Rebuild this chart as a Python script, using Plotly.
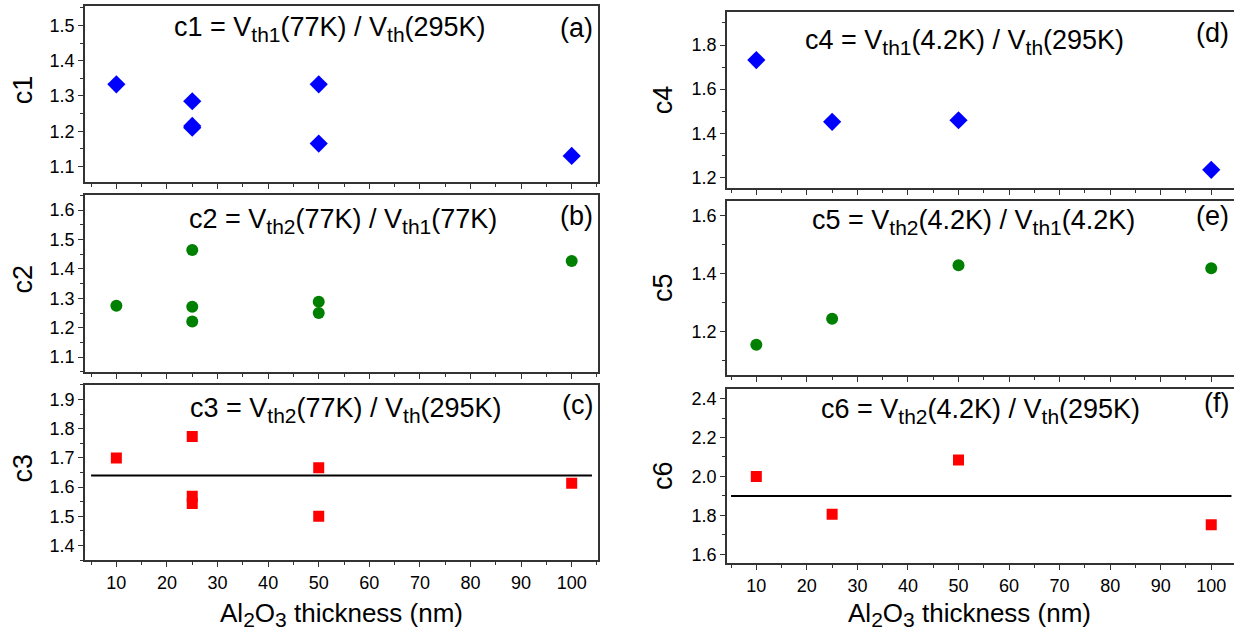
import plotly.graph_objects as go
from plotly.subplots import make_subplots

# ---------------- data ----------------
x_c1 = [10, 25, 25, 25, 50, 50, 100]
c1 = [1.333, 1.285, 1.210, 1.215, 1.333, 1.165, 1.130]

x_c2 = [10, 25, 25, 25, 50, 50, 100]
c2 = [1.275, 1.464, 1.271, 1.221, 1.288, 1.250, 1.427]

x_c3 = [10, 25, 25, 25, 50, 50, 100]
c3 = [1.700, 1.773, 1.569, 1.544, 1.666, 1.500, 1.613]
c3_line_x = [5, 104]
c3_line_y = [1.64, 1.64]

x_c4 = [10, 25, 50, 100]
c4 = [1.732, 1.452, 1.459, 1.234]

x_c5 = [10, 25, 50, 100]
c5 = [1.154, 1.244, 1.429, 1.419]

x_c6 = [10, 25, 50, 100]
c6 = [2.000, 1.806, 2.084, 1.752]
c6_line_x = [5, 104]
c6_line_y = [1.90, 1.90]

x_ticks = [10, 20, 30, 40, 50, 60, 70, 80, 90, 100]

W, H = 1234, 631
FONT = "Liberation Sans, Arial, sans-serif"
AX = "#333333"

fig = make_subplots(rows=3, cols=2)

blue, green, red = "#0000FF", "#008000", "#FF0000"

def add_pts(x, y, row, col, symbol, color, size):
    fig.add_trace(go.Scatter(x=x, y=y, mode="markers",
                             marker=dict(symbol=symbol, color=color, size=size, line=dict(width=0)),
                             showlegend=False), row=row, col=col)

add_pts(x_c1, c1, 1, 1, "diamond", blue, 14)
add_pts(x_c2, c2, 2, 1, "circle", green, 12)
add_pts(x_c3, c3, 3, 1, "square", red, 11)
fig.add_trace(go.Scatter(x=c3_line_x, y=c3_line_y, mode="lines",
                         line=dict(color="black", width=2), showlegend=False), row=3, col=1)
add_pts(x_c4, c4, 1, 2, "diamond", blue, 14)
add_pts(x_c5, c5, 2, 2, "circle", green, 12)
add_pts(x_c6, c6, 3, 2, "square", red, 11)
fig.add_trace(go.Scatter(x=c6_line_x, y=c6_line_y, mode="lines",
                         line=dict(color="black", width=2), showlegend=False), row=3, col=2)

def px_x(x):
    return x / W

def px_y(y):
    return 1 - y / H

# domains (pixel positions)
left_x = (85, 598)
right_x = (727, 1234)
left_y = [(6, 183), (196, 373), (386, 562)]
right_y = [(12, 189), (202, 376), (390, 565)]

yranges_left = [(1.055, 1.555), (1.05, 1.65), (1.35, 1.95)]
yranges_right = [(1.15, 1.95), (1.05, 1.65), (1.555, 2.45)]
ytitles_left = ["c1", "c2", "c3"]
ytitles_right = ["c4", "c5", "c6"]

TICKFONT = dict(family=FONT, size=18, color="black")

xaxis_common = dict(
    tickvals=x_ticks, ticks="outside", ticklen=5, tickwidth=1, tickcolor=AX,
    showline=True, linecolor=AX, linewidth=1.5, showgrid=False, zeroline=False,
    minor=dict(dtick=5, ticks="outside", ticklen=3, tickcolor=AX, showgrid=False),
    tickfont=TICKFONT,
)

for i in range(3):
    row = i + 1
    fig.update_xaxes(domain=[px_x(left_x[0]), px_x(left_x[1])], range=[3.8, 105.2],
                     mirror=True, showticklabels=(i == 2), row=row, col=1, **xaxis_common)
    fig.update_yaxes(domain=[px_y(left_y[i][1]), px_y(left_y[i][0])], range=list(yranges_left[i]),
                     dtick=0.1, tickformat=".1f", ticks="outside", ticklen=5, tickcolor=AX,
                     showline=True, linecolor=AX, linewidth=1.5, mirror=True,
                     showgrid=False, zeroline=False,
                     minor=dict(dtick=0.05, ticks="outside", ticklen=3, tickcolor=AX, showgrid=False),
                     tickfont=TICKFONT, row=row, col=1)
    fig.update_xaxes(domain=[px_x(right_x[0]), px_x(right_x[1])], range=[4.2, 104.5],
                     mirror=True, showticklabels=(i == 2), row=row, col=2, **xaxis_common)
    fig.update_yaxes(domain=[px_y(right_y[i][1]), px_y(right_y[i][0])], range=list(yranges_right[i]),
                     dtick=0.2, tickformat=".1f", ticks="outside", ticklen=5, tickcolor=AX,
                     showline=True, linecolor=AX, linewidth=1.5, mirror=False,
                     showgrid=False, zeroline=False,
                     minor=dict(dtick=0.1, ticks="outside", ticklen=3, tickcolor=AX, showgrid=False),
                     tickfont=TICKFONT, row=row, col=2)

ann = []
def add_ann(text, x, y, size, xanchor="center", angle=0):
    ann.append(dict(text=text, x=px_x(x), y=px_y(y), xref="paper", yref="paper",
                    xanchor=xanchor, yanchor="middle", showarrow=False, textangle=angle,
                    font=dict(family=FONT, size=size, color="black")))

def sub(t, px=21):
    return "<sub><span style='font-size:%dpx'>%s</span></sub>" % (px, t)

TS = 27
add_ann("c1 = V" + sub("th1") + "(77K) / V" + sub("th") + "(295K)", 330, 29, TS)
add_ann("(a)", 595, 28, TS, "right")
add_ann("c2 = V" + sub("th2") + "(77K) / V" + sub("th1") + "(77K)", 343, 222, TS)
add_ann("(b)", 595, 217, TS, "right")
add_ann("c3 = V" + sub("th2") + "(77K) / V" + sub("th") + "(295K)", 346, 411, TS)
add_ann("(c)", 595, 406, TS, "right")
add_ann("c4 = V" + sub("th1") + "(4.2K) / V" + sub("th") + "(295K)", 964, 42, TS)
add_ann("(d)", 1231, 33, TS, "right")
add_ann("c5 = V" + sub("th2") + "(4.2K) / V" + sub("th1") + "(4.2K)", 973, 223, TS)
add_ann("(e)", 1231, 217, TS, "right")
add_ann("c6 = V" + sub("th2") + "(4.2K) / V" + sub("th") + "(295K)", 980, 412, TS)
add_ann("(f)", 1231, 404, TS, "right")

# axis titles
YS = 27
for i, t in enumerate(ytitles_left):
    add_ann(t, 23, (left_y[i][0] + left_y[i][1]) / 2 - 4, YS, "center", -90)
for i, t in enumerate(ytitles_right):
    add_ann(t, 663, (right_y[i][0] + right_y[i][1]) / 2, YS, "center", -90)
xt = "Al" + sub("2", 21) + "O" + sub("3", 21) + " thickness (nm)"
add_ann(xt, 341, 616, 26)
add_ann(xt, 969, 616, 26)

fig.update_layout(width=W, height=H, margin=dict(l=0, r=0, t=0, b=0),
                  paper_bgcolor="white", plot_bgcolor="white",
                  annotations=ann, showlegend=False,
                  font=dict(family=FONT, color="black"))

fig.write_html("out.html", config={"displayModeBar": False},
               post_script="document.body.style.margin='0';document.body.style.overflow='hidden';")
